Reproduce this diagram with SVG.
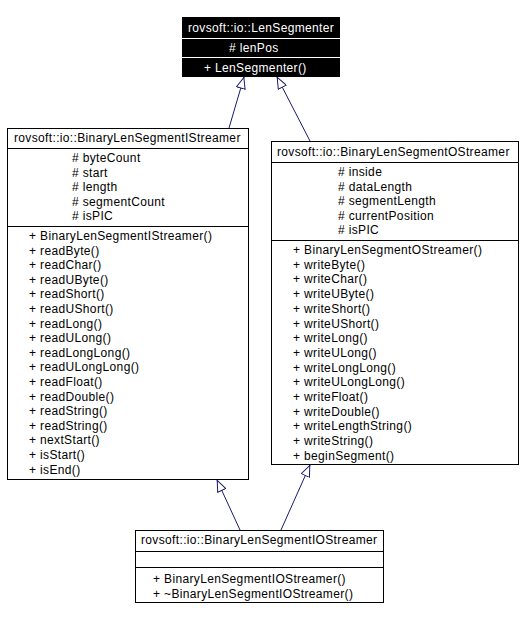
<svg xmlns="http://www.w3.org/2000/svg" width="524" height="620" viewBox="0 0 524 620">
<style>
text{font-family:"Liberation Sans",Arial,sans-serif;font-size:12px;fill:#000;letter-spacing:0.35px}
.w{fill:#fff}
.box{fill:#fff;stroke:#000;stroke-width:1}
.sep{stroke:#000;stroke-width:1}
.wsep{stroke:#fff;stroke-width:1}
.edge{stroke:#191970;stroke-width:1;fill:none;marker-end:url(#tri)}
</style>
<defs>
<marker id="tri" viewBox="0 0 12 10" refX="12" refY="5" markerWidth="12" markerHeight="10" markerUnits="userSpaceOnUse" orient="auto">
<path d="M0.5,0.5 L11.5,5 L0.5,9.5 Z" fill="#fff" stroke="#191970" stroke-width="1"/>
</marker>
</defs>
<rect width="524" height="620" fill="#fff"/>
<g id="connectors">
<line class="edge" x1="229" y1="128" x2="244" y2="77"/>
<line class="edge" x1="310" y1="141" x2="277" y2="77"/>
<line class="edge" x1="240" y1="530" x2="217" y2="480"/>
<line class="edge" x1="281" y1="530" x2="310" y2="465"/>
</g>
<g id="LenSegmenter">
<rect x="182.5" y="17.5" width="157" height="59" fill="#000" stroke="#000"/>
<line class="wsep" x1="182" y1="38.5" x2="340" y2="38.5"/>
<line class="wsep" x1="182" y1="57.5" x2="340" y2="57.5"/>
<text class="w" x="188" y="32">rovsoft::io::LenSegmenter</text>
<text class="w" x="229" y="52"># lenPos</text>
<text class="w" x="204" y="72">+ LenSegmenter()</text>
</g>
<g id="BinaryLenSegmentIStreamer">
<rect class="box" x="7.5" y="128.5" width="241" height="351"/>
<line class="sep" x1="7" y1="148.5" x2="249" y2="148.5"/>
<line class="sep" x1="7" y1="226.5" x2="249" y2="226.5"/>
<text x="14" y="142">rovsoft::io::BinaryLenSegmentIStreamer</text>
<text x="72" y="162"># byteCount</text>
<text x="72" y="176.5"># start</text>
<text x="72" y="191"># length</text>
<text x="72" y="205.5"># segmentCount</text>
<text x="72" y="220"># isPIC</text>
<text x="29" y="240">+ BinaryLenSegmentIStreamer()</text>
<text x="29" y="254.6">+ readByte()</text>
<text x="29" y="269.2">+ readChar()</text>
<text x="29" y="283.8">+ readUByte()</text>
<text x="29" y="298.4">+ readShort()</text>
<text x="29" y="313">+ readUShort()</text>
<text x="29" y="327.6">+ readLong()</text>
<text x="29" y="342.2">+ readULong()</text>
<text x="29" y="356.8">+ readLongLong()</text>
<text x="29" y="371.4">+ readULongLong()</text>
<text x="29" y="386">+ readFloat()</text>
<text x="29" y="400.6">+ readDouble()</text>
<text x="29" y="415.2">+ readString()</text>
<text x="29" y="429.8">+ readString()</text>
<text x="29" y="444.4">+ nextStart()</text>
<text x="29" y="459">+ isStart()</text>
<text x="29" y="473.6">+ isEnd()</text>
</g>
<g id="BinaryLenSegmentOStreamer">
<rect class="box" x="271.5" y="141.5" width="247" height="323"/>
<line class="sep" x1="271" y1="162.5" x2="519" y2="162.5"/>
<line class="sep" x1="271" y1="240.5" x2="519" y2="240.5"/>
<text x="277" y="156">rovsoft::io::BinaryLenSegmentOStreamer</text>
<text x="338" y="176"># inside</text>
<text x="338" y="190.5"># dataLength</text>
<text x="338" y="205"># segmentLength</text>
<text x="338" y="219.5"># currentPosition</text>
<text x="338" y="234"># isPIC</text>
<text x="293" y="254">+ BinaryLenSegmentOStreamer()</text>
<text x="293" y="268.7">+ writeByte()</text>
<text x="293" y="283.4">+ writeChar()</text>
<text x="293" y="298.1">+ writeUByte()</text>
<text x="293" y="312.8">+ writeShort()</text>
<text x="293" y="327.5">+ writeUShort()</text>
<text x="293" y="342.2">+ writeLong()</text>
<text x="293" y="356.9">+ writeULong()</text>
<text x="293" y="371.6">+ writeLongLong()</text>
<text x="293" y="386.3">+ writeULongLong()</text>
<text x="293" y="401">+ writeFloat()</text>
<text x="293" y="415.7">+ writeDouble()</text>
<text x="293" y="430.4">+ writeLengthString()</text>
<text x="293" y="445.1">+ writeString()</text>
<text x="293" y="459.8">+ beginSegment()</text>
</g>
<g id="BinaryLenSegmentIOStreamer">
<rect class="box" x="135.5" y="530.5" width="248" height="72"/>
<line class="sep" x1="135" y1="551.5" x2="384" y2="551.5"/>
<line class="sep" x1="135" y1="567.5" x2="384" y2="567.5"/>
<text x="141" y="544">rovsoft::io::BinaryLenSegmentIOStreamer</text>
<text x="153" y="583">+ BinaryLenSegmentIOStreamer()</text>
<text x="153" y="598">+ ~BinaryLenSegmentIOStreamer()</text>
</g>
</svg>
